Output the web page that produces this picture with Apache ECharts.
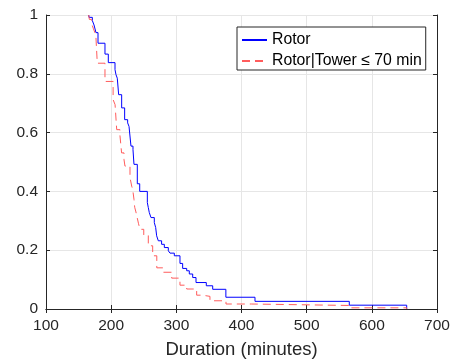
<!DOCTYPE html>
<html>
<head>
<meta charset="utf-8">
<script src="https://cdn.jsdelivr.net/npm/echarts@6/dist/echarts.min.js"></script>
<style>
  html, body { margin: 0; padding: 0; background: #fff; }
  #chart { width: 454px; height: 364px; }
</style>
</head>
<body>
<div id="chart"></div>
<script>
// Empirical survivor functions: time (minutes) and survival value after each step
const rotorTimes = [165.5, 166, 171.1, 173.7, 176.7, 179.8, 190.5, 195.6, 205.9, 207.4, 209.4, 211.5,
  216.1, 220.7, 225.3, 227.4, 230.4, 233.5, 235.0, 240.1, 243.8, 255.5, 257.0, 258.5, 261.1,
  266.2, 268.3, 269.8, 272.3, 277.4, 281.6, 287.7, 290.3, 296.9, 305.6, 309.7, 315.9, 319.9,
  325.1, 330.2, 346.0, 355.8, 376.0, 420.7, 565.4, 653.5];
const rotorSurv = [1, 0.992, 0.981, 0.966, 0.940, 0.904, 0.867, 0.838, 0.814, 0.797, 0.785, 0.729,
  0.684, 0.644, 0.633, 0.621, 0.554, 0.542, 0.492, 0.426, 0.400, 0.362, 0.345, 0.328, 0.311,
  0.294, 0.277, 0.249, 0.232, 0.220, 0.209, 0.198, 0.190, 0.181, 0.155, 0.138, 0.130, 0.119,
  0.107, 0.090, 0.079, 0.067, 0.040, 0.026, 0.013, 0];

const towerTimes = [165.5, 166.5, 170, 172.5, 175, 176.5, 178.7, 190.5, 203, 206, 208.5, 213.5,
  216, 219.7, 221.2, 228.9, 231.5, 233, 235, 236.1, 238, 240, 242, 244.2, 250, 257, 263.7,
  270, 280, 292.9, 305.6, 315.9, 331.2, 340, 351.6, 376.2, 415, 565.4, 653.5];
const towerSurv = [1, 0.985, 0.97, 0.955, 0.94, 0.93, 0.836, 0.774, 0.712, 0.695, 0.61, 0.59,
  0.531, 0.508, 0.486, 0.447, 0.418, 0.407, 0.373, 0.346, 0.33, 0.31, 0.29, 0.271, 0.25, 0.215,
  0.181, 0.14, 0.125, 0.105, 0.081, 0.068, 0.047, 0.043, 0.028, 0.017, 0.012, 0.004, 0];

const seriesNames = ['Rotor', 'Rotor|Tower ≤ 70 min'];
const xLabelName = 'Duration (minutes)';

const zip = (xs, ys) => xs.map((x, i) => [x, ys[i]]);

const FONT = '"Liberation Sans", Arial, Helvetica, sans-serif';
const AXIS_COLOR = '#262626';
const GRID_COLOR = '#e6e6e6';

const chart = echarts.init(document.getElementById('chart'), null, { renderer: 'canvas' });

const baseAxisLine = { show: true, lineStyle: { color: AXIS_COLOR, width: 1 } };
const baseTick = { show: true, inside: true, length: 4, lineStyle: { color: AXIS_COLOR } };

chart.setOption({
  animation: false,
  backgroundColor: '#fff',
  grid: { left: 46, right: 17, top: 15, bottom: 54, containLabel: false },
  legend: {
    orient: 'vertical',
    left: 237,
    top: 27,
    padding: [5, 4, 1, 4],
    itemGap: 5,
    itemWidth: 25,
    itemHeight: 14,
    borderColor: AXIS_COLOR,
    borderWidth: 1,
    backgroundColor: '#fff',
    // legend keys show only the line sample
    itemStyle: { color: 'transparent', borderColor: 'transparent', borderWidth: 0 },
    textStyle: { fontFamily: FONT, fontSize: 15.8, color: '#000' },
    data: seriesNames
  },
  xAxis: [
    {
      type: 'value', min: 100, max: 700, interval: 100, position: 'bottom',
      name: xLabelName, nameLocation: 'middle', nameGap: 31,
      nameTextStyle: { fontFamily: FONT, fontSize: 18.5, color: AXIS_COLOR },
      axisLine: baseAxisLine, axisTick: baseTick,
      axisLabel: { fontFamily: FONT, fontSize: 15.5, color: AXIS_COLOR, margin: 9 },
      splitLine: { show: true, lineStyle: { color: GRID_COLOR, width: 1 } }
    },
    {
      type: 'value', min: 100, max: 700, interval: 100, position: 'top',
      axisLine: baseAxisLine, axisTick: baseTick,
      axisLabel: { show: false }, splitLine: { show: false }
    }
  ],
  yAxis: [
    {
      type: 'value', min: 0, max: 1, interval: 0.2, position: 'left',
      axisLine: baseAxisLine, axisTick: baseTick,
      axisLabel: { fontFamily: FONT, fontSize: 15.5, color: AXIS_COLOR, margin: 8 },
      splitLine: { show: true, lineStyle: { color: GRID_COLOR, width: 1 } }
    },
    {
      type: 'value', min: 0, max: 1, interval: 0.2, position: 'right',
      axisLine: baseAxisLine, axisTick: baseTick,
      axisLabel: { show: false }, splitLine: { show: false }
    }
  ],
  series: [
    {
      name: seriesNames[0], type: 'line', step: 'end',
      xAxisIndex: 0, yAxisIndex: 0,
      symbol: 'none', showSymbol: false,
      lineStyle: { color: '#0000ff', width: 1 },
      itemStyle: { color: '#0000ff' },
      data: zip(rotorTimes, rotorSurv)
    },
    {
      name: seriesNames[1], type: 'line', step: 'end',
      xAxisIndex: 0, yAxisIndex: 0,
      symbol: 'none', showSymbol: false,
      lineStyle: { color: '#ff5c5c', width: 1, type: [8, 5] },
      itemStyle: { color: '#ff5c5c' },
      data: zip(towerTimes, towerSurv)
    }
  ]
});
</script>
</body>
</html>
